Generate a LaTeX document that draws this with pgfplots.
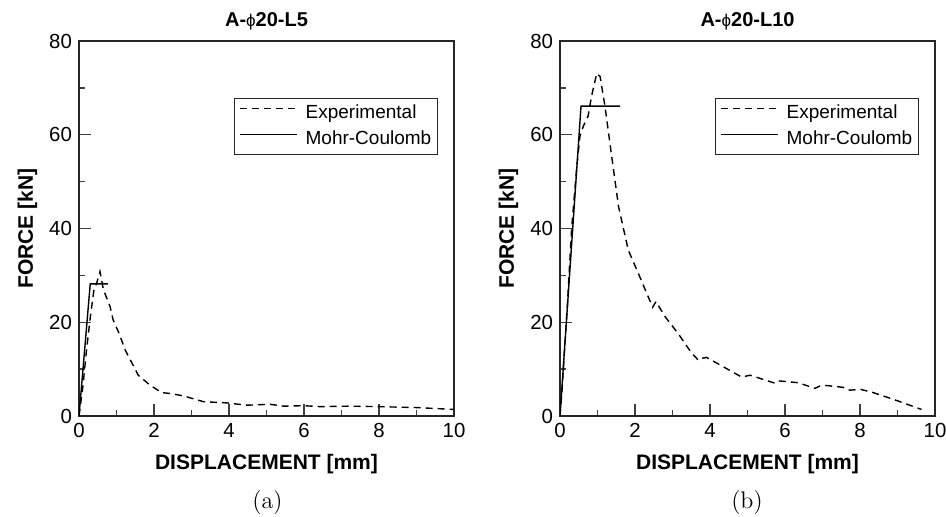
\documentclass[border=0pt]{standalone}
\usepackage{fontspec}
\usepackage{pgfplots}
\pgfplotsset{compat=1.18}
\newfontfamily\arial{Liberation Sans}

\newcommand{\tickfont}{\arial\fontsize{10.2}{12}\selectfont}
\newcommand{\legfont}{\arial\fontsize{9.5}{11}\selectfont}
\newcommand{\labfont}{\arial\bfseries\fontsize{10.5}{12}\selectfont}

\pgfplotsset{
  forceplot/.style={
    width=187.5pt, height=187.5pt, scale only axis,
    xmin=0, xmax=10, ymin=0, ymax=80,
    xtick={0,2,...,10}, ytick={0,20,...,80},
    minor tick num=1,
    tick align=inside, tick pos=left,
    major tick length=6pt, minor tick length=3pt,
    axis line style={black!85, line width=0.7pt},
    every tick/.append style={black!75, line width=0.7pt},
    tick label style={font=\tickfont},
    /pgf/number format/assume math mode=true,
    every axis title shift=0pt,
    title style={font=\arial\bfseries\fontsize{10}{12}\selectfont,
      at={(axis description cs:0.5,1)}, anchor=base, yshift=7pt},
    xlabel style={font=\labfont, at={(axis description cs:0.5,0)}, anchor=base, yshift=-27pt},
    ylabel style={font=\labfont, at={(axis description cs:-0.1227,0.5)}, anchor=base},
    xlabel={DISPLACEMENT [mm]},
    ylabel={FORCE [kN]},
    legend style={at={(0.957,0.848)}, anchor=north east, draw=black!85, line width=0.6pt,
      font=\legfont, inner xsep=2.5pt, inner ysep=2.5pt, row sep=3pt,
      cells={anchor=west},
      nodes={inner sep=0.5pt, text height=7pt, text depth=2pt},
      /tikz/every odd column/.append style={column sep=3.5pt}},
    legend image code/.code={\draw[#1] (0pt,2.5pt) -- (28.5pt,2.5pt);},
  },
  expcurve/.style={black, line width=0.7pt, dash pattern=on 3.5pt off 2.5pt},
  mccurve/.style={black, line width=0.7pt},
}

\begin{document}
\begin{tikzpicture}
\useasboundingbox (0,0) rectangle (473pt,258.5pt);

\begin{axis}[forceplot, at={(39.5pt,50.5pt)}, anchor=south west,
  title={A-{\mdseries\fontsize{8.5}{10}\selectfont ϕ}20-L5}]
  \addplot[expcurve] coordinates {
    (0,0) (0.1,6) (0.2,14) (0.3,21) (0.4,27) (0.47,28.3) (0.56,30.8)
    (0.65,27) (0.83,23.3) (0.91,20.5) (1.07,17.6) (1.23,14.1) (1.58,8.7)
    (1.89,6.6) (2.2,5.0) (2.43,4.8) (2.78,4.3) (3.32,3.05) (3.94,2.8)
    (4.47,2.3) (5.09,2.5) (5.45,2.1) (5.98,2.2) (6.43,2.0) (7.23,2.1)
    (7.94,2.0) (9.0,1.8) (9.98,1.4)
  };
  \addlegendentry{Experimental}
  \addplot[mccurve] coordinates {
    (0,0) (0.3,28.2) (0.77,28.2)
  };
  \addlegendentry{Mohr-Coulomb}
\end{axis}

\begin{axis}[forceplot, at={(280pt,50.5pt)}, anchor=south west,
  title={A-{\mdseries\fontsize{8.5}{10}\selectfont ϕ}20-L10}]
  \addplot[expcurve] coordinates {
    (0,0) (0.05,5) (0.12,14) (0.2,24) (0.24,30) (0.31,40) (0.44,52.5)
    (0.53,59.6) (0.62,61.8) (0.75,64) (0.84,68.2) (0.98,73.1) (1.07,72.4)
    (1.2,66) (1.38,55.3) (1.56,44.7) (1.82,35.4) (2.09,30.4) (2.47,23.2)
    (2.56,24.4) (2.8,21.2) (3.15,17.6) (3.51,13.4) (3.69,11.9) (3.78,12.3)
    (3.91,12.5) (4.8,8.5) (4.84,8.3) (5.07,8.7) (5.73,7.0) (5.82,7.5)
    (6.35,7.1) (6.8,5.9) (6.93,6.4) (7.11,6.5) (7.56,6.1) (7.73,5.5)
    (8.0,5.7) (8.35,5.0) (8.98,3.3) (9.64,1.4)
  };
  \addlegendentry{Experimental}
  \addplot[mccurve] coordinates {
    (0,0) (0.56,66.1) (1.6,66.1)
  };
  \addlegendentry{Mohr-Coulomb}
\end{axis}

\node[anchor=base, font=\fontsize{12}{14}\selectfont] at (133.75pt,4.3pt) {(a)};
\node[anchor=base, font=\fontsize{12}{14}\selectfont] at (373.5pt,4.3pt) {(b)};
\end{tikzpicture}
\end{document}
